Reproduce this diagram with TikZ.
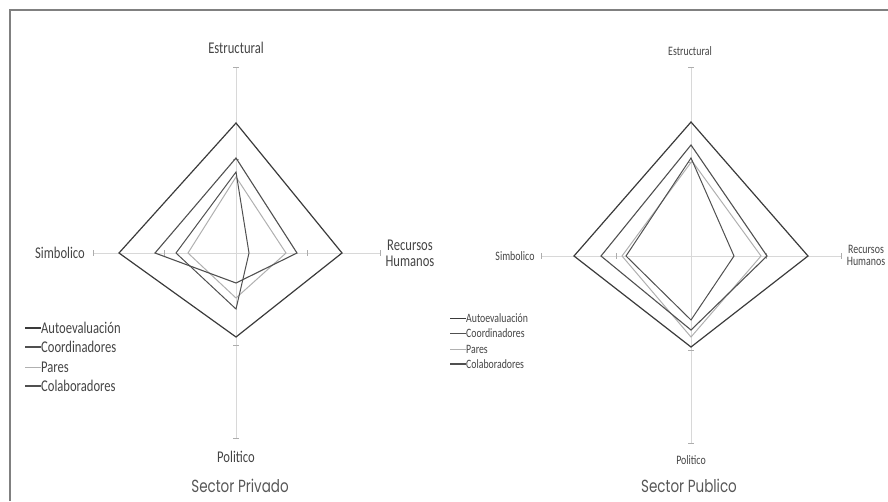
\documentclass[tikz,border=0pt]{standalone}
\usepackage{fontspec}
\usepackage{graphicx}
\setmainfont{Carlito}
\newfontfamily\titlefont{Poppins}
\newcommand\tall[1]{\scalebox{1}[1.3]{#1}}
\definecolor{axisgray}{HTML}{D8D8D8}
\definecolor{textgray}{HTML}{444444}
\definecolor{darkser}{HTML}{3A3A3A}
\definecolor{midser}{HTML}{505050}
\definecolor{lightser}{HTML}{B0B0B0}
\tikzset{
  axisline/.style={draw=axisgray, line width=0.8pt},
  tickmark/.style={draw=axisgray!80!black, line width=0.6pt},
  serA/.style={draw=darkser, line width=1.2pt, line join=miter},
  serB/.style={draw=midser, line width=1.1pt, line join=miter},
  serC/.style={draw=midser, line width=1.0pt, line join=miter},
  serD/.style={draw=lightser, line width=1.0pt, line join=miter},
  lblL/.style={text=textgray, font=\fontsize{12.6}{13}\selectfont, inner sep=0pt},
  lblR/.style={text=textgray, font=\fontsize{9.9}{10}\selectfont, inner sep=0pt},
  legL/.style={text=textgray, font=\fontsize{12.6}{13}\selectfont, inner sep=0pt, anchor=west},
  legR/.style={text=textgray, font=\fontsize{9.8}{10}\selectfont, inner sep=0pt, anchor=west},
  ttl/.style={text=textgray!90, font=\titlefont\fontsize{13.5}{14}\selectfont, inner sep=0pt},
  frame/.style={draw=black!50, line width=1.4pt}
}
\begin{document}
\begin{tikzpicture}[x=1pt, y=-1pt]
\useasboundingbox (0,0) rectangle (888,501);
% frame
\draw[frame] (10,501) -- (10,10) -- (888,10);

% ================= LEFT CHART =================
\coordinate (lc) at (236,253);
\coordinate (lt) at (236,67);
\coordinate (lb) at (236,438);
\coordinate (ll) at (93,253);
\coordinate (lr) at (380,253);
\draw[axisline] (lt) -- (lb);
\draw[axisline] (ll) -- (lr);
\foreach \y in {67,159,345,438} \draw[tickmark] (233,\y) -- (239,\y);
\foreach \x in {93,164,307,380} \draw[tickmark] (\x,250) -- (\x,256);

\draw[serA] (236,123) -- (342,253) -- (236,337) -- (119,253) -- cycle;
\draw[serD] (236,177) -- (286,253) -- (236,298) -- (188,253) -- cycle;
\draw[serB] (236,158) -- (297,253) -- (236,283) -- (155,253) -- cycle;
\draw[serC] (236,172) -- (249,253) -- (236,309) -- (176,253) -- cycle;

\node[lblL] (lEst) at (236,48) {\tall{Estructural}};
\node[lblL] (lSim) at (60,253) {\tall{Simbolico}};
\node[lblL, align=center] (lRec) at (410,253) {\tall{Recursos}\\[3pt]\tall{Humanos}};
\node[lblL] (lPol) at (236,457) {\tall{Politico}};
\node[ttl] (lTtl) at (240,486) {\tall{Sector Privado}};

\node[legL] (lg1) at (41,328) {\tall{Autoevaluación}};
\node[legL] (lg2) at (41,347) {\tall{Coordinadores}};
\node[legL] (lg3) at (41,367) {\tall{Pares}};
\node[legL] (lg4) at (41,386) {\tall{Colaboradores}};
\draw[serA] (25,328) -- (lg1.west);
\draw[serB] (25,347) -- (lg2.west);
\draw[serD] (25,367) -- (lg3.west);
\draw[serC, line width=1.3pt] (25,386) -- (lg4.west);

% ================= RIGHT CHART =================
\coordinate (rc) at (691,256);
\coordinate (rt) at (691,67);
\coordinate (rb) at (691,443);
\coordinate (rl) at (541,256);
\coordinate (rr) at (841,256);
\draw[axisline] (rt) -- (rb);
\draw[axisline] (rl) -- (rr);
\foreach \y in {67,162,350,443} \draw[tickmark] (688,\y) -- (694,\y);
\foreach \x in {541,616,766,841} \draw[tickmark] (\x,253) -- (\x,259);

\draw[serA] (691,122) -- (808,256) -- (691,347) -- (574,256) -- cycle;
\draw[serD] (692,161) -- (761,256) -- (691,337) -- (622,256) -- cycle;
\draw[serB] (691,145) -- (767,256) -- (691,330) -- (601,256) -- cycle;
\draw[serC] (691,158) -- (734,256) -- (691,320) -- (626,256) -- cycle;

\node[lblR] (rEst) at (690,51) {\tall{Estructural}};
\node[lblR] (rSim) at (515,256) {\tall{Simbolico}};
\node[lblR, align=center] (rRec) at (866,255) {\tall{Recursos}\\[2pt]\tall{Humanos}};
\node[lblR] (rPol) at (691,460) {\tall{Politico}};
\node[ttl] (rTtl) at (689,486) {\tall{Sector Publico}};

\node[legR] (rg1) at (466,318) {\tall{Autoevaluación}};
\node[legR] (rg2) at (466,333) {\tall{Coordinadores}};
\node[legR] (rg3) at (466,349) {\tall{Pares}};
\node[legR] (rg4) at (466,364) {\tall{Colaboradores}};
\draw[serA, line width=1pt] (450,318) -- (rg1.west);
\draw[serB, line width=1pt] (450,333) -- (rg2.west);
\draw[serD, line width=0.8pt] (450,349) -- (rg3.west);
\draw[serC, line width=1.2pt] (450,364) -- (rg4.west);
\end{tikzpicture}
\end{document}
